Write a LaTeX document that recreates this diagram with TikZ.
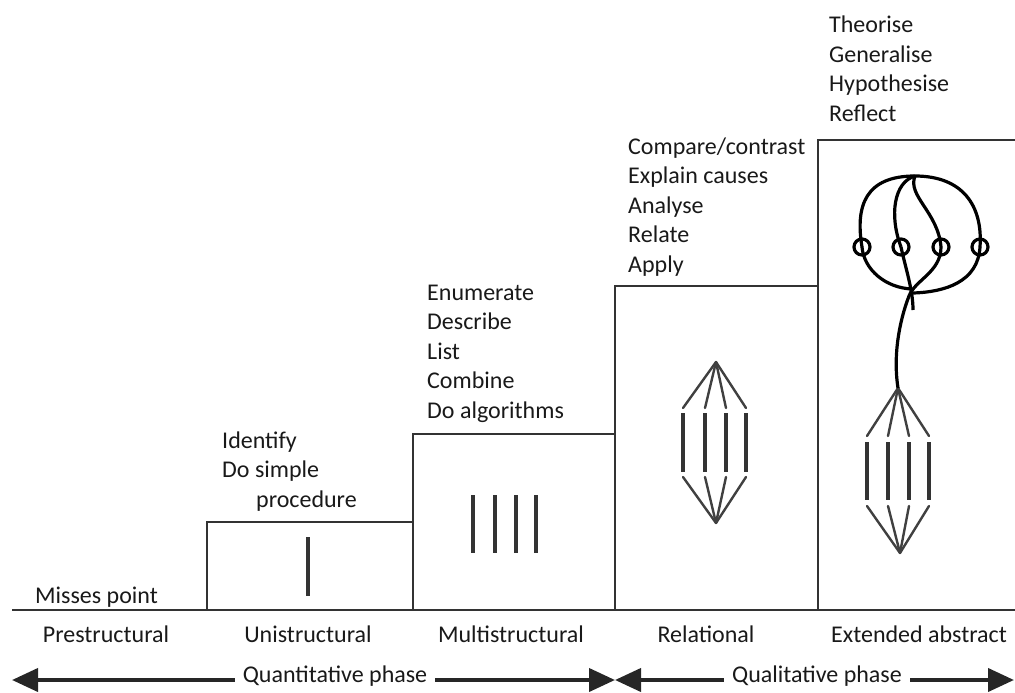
\documentclass[tikz,border=0pt]{standalone}
\usepackage{fontspec}
\setmainfont{Carlito}
\usetikzlibrary{arrows.meta}

\tikzset{
	stepline/.style={draw=black!80, line width=1.6pt},
	bar/.style={draw=black!80, line width=4pt},
	link/.style={draw=black!75, line width=2.4pt, line cap=round},
	ring/.style={draw=black, line width=3.2pt},
	lab/.style={text=black!90, inner sep=0pt, anchor=base west, font=\fontsize{24}{28}\selectfont},
	phase/.style={draw=black!85, line width=4pt, -{Triangle[length=26pt,width=23pt]}},
}

\begin{document}
\begin{tikzpicture}[x=1pt,y=-1pt]
	\useasboundingbox (0,0) rectangle (1015,693);

	% steps
	\draw[stepline] (12,610) -- (1015,610);
	\foreach \xa / \xb / \h in {207/413/522, 413/615/434, 615/818/286}
	{
		\draw[stepline] (\xa,610) rectangle (\xb,\h);
	};
	\draw[stepline] (818,610) -- (818,140) -- (1015,140);

	% unistructural
	\draw[bar] (308,537) -- (308,596);

	% multistructural
	\foreach \x in {473,495,516,536}
	{
		\draw[bar] (\x,495) -- (\x,553);
	};

	% relational
	\coordinate (rt) at (716,362);
	\coordinate (rb) at (716,523);
	\foreach \x in {683,705,726,746}
	{
		\draw[bar] (\x,413) -- (\x,472);
		\path[link] (rt) edge (\x,408);
		\path[link] (\x,477) edge (rb);
	};

	% extended abstract
	\coordinate (et) at (898,388);
	\coordinate (eb) at (900,553);
	\foreach \x in {867,888,909,929}
	{
		\draw[bar] (\x,442) -- (\x,500);
		\path[link] (et) edge (\x,436);
		\path[link] (\x,506) edge (eb);
	};

	\coordinate (top) at (915,176);
	\foreach \i / \x in {1/862, 2/901, 3/941, 4/980}
	{
		\node[ring, circle, minimum size=16pt, inner sep=0pt] (c\i) at (\x,247) {};
	};
	\draw[ring] (top) .. controls (866,176) and (855,205) .. (c1.center);
	\draw[ring] (top) .. controls (962,176) and (983,205) .. (c4.center);
	\draw[ring] (top) .. controls (894,182) and (889,215) .. (c2.center);
	\draw[ring] (top) .. controls (907,196) and (938,212) .. (c3.center);
	\draw[ring] (c1.center) .. controls (864,270) and (886,288) .. (912,289);
	\draw[ring] (c4.center) .. controls (978,282) and (945,292) .. (913,293);
	\draw[ring] (c2.center) .. controls (906,270) and (913,290) .. (913,310);
	\draw[ring] (c3.center) .. controls (941,272) and (915,280) .. (909,296)
		.. controls (899,322) and (893,356) .. (et);

	% texts
	\node[lab] (miss) at (35,603) {Misses point};
	\node[lab] (uni1) at (222,448) {Identify};
	\node[lab] (uni2) at (222,477) {Do simple};
	\node[lab] (uni3) at (256,507) {procedure};
	\foreach \t [count=\i from 0] in {Enumerate, Describe, List, Combine, Do algorithms}
	{
		\node[lab] (multi\i) at (427,{300+29.5*\i}) {\t};
	};
	\foreach \t [count=\i from 0] in {{Compare/contrast}, Explain causes, Analyse, Relate, Apply}
	{
		\node[lab] (rel\i) at (628,{154+29.5*\i}) {\t};
	};
	\foreach \t [count=\i from 0] in {Theorise, Generalise, Hypothesise, Reflect}
	{
		\node[lab] (ext\i) at (829,{33+29.5*\i}) {\t};
	};

	% levels
	\foreach \x / \t in {106/Prestructural, 308/Unistructural, 511/Multistructural, 706/Relational, 919/Extended abstract}
	{
		\node[lab, anchor=base] at (\x,642) {\t};
	};

	% phases
	\coordinate (ql) at (12,680);
	\coordinate (qm) at (615,680);
	\coordinate (qr) at (1014,680);
	\node[lab, anchor=mid, inner xsep=8pt] (quant) at (335,680) {Quantitative phase};
	\node[lab, anchor=mid, inner xsep=8pt] (qual) at (817,680) {Qualitative phase};
	\draw[phase] (quant.west |- ql) -- (ql);
	\draw[phase] (quant.east |- qm) -- (qm);
	\draw[phase] (qual.west |- qm) -- (qm);
	\draw[phase] (qual.east |- qr) -- (qr);
\end{tikzpicture}
\end{document}
